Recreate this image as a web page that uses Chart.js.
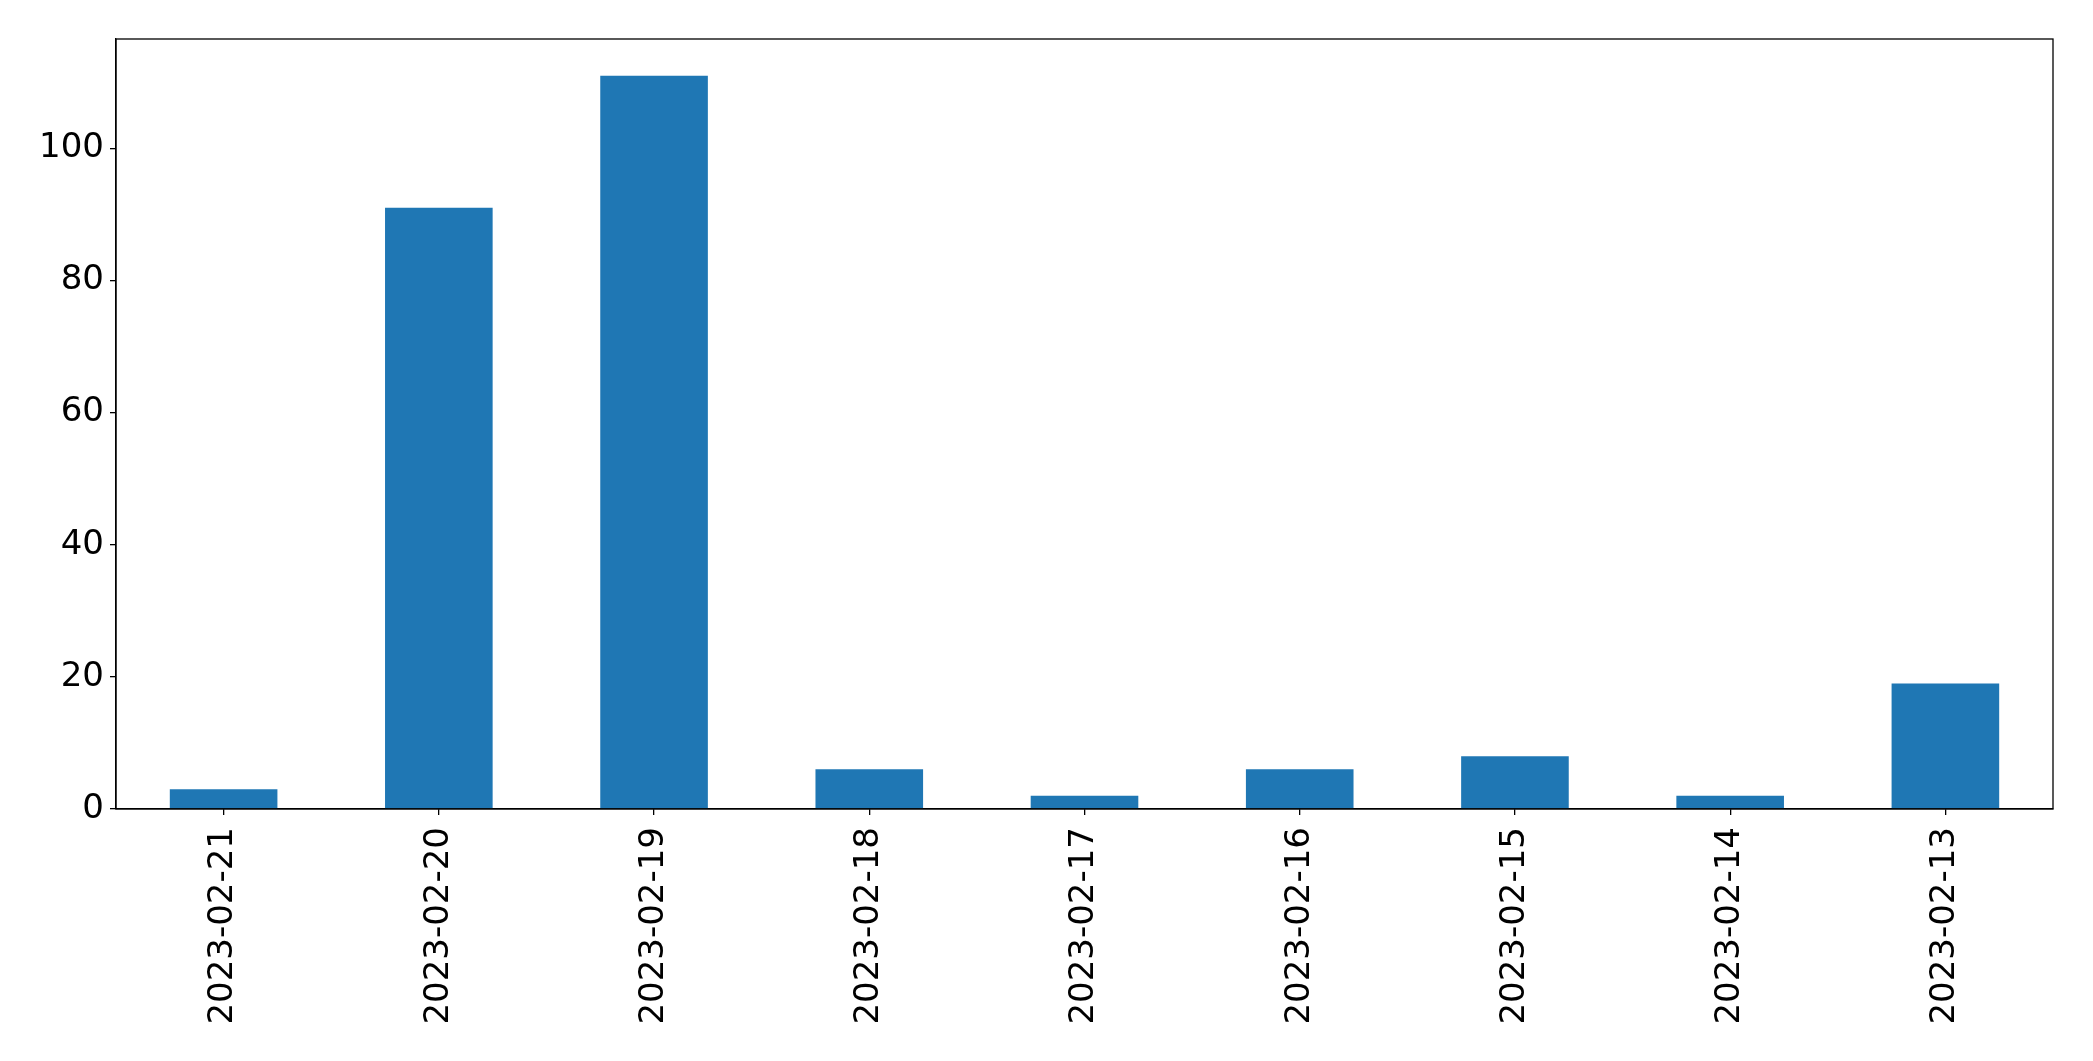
<!DOCTYPE html>
<html>
<head>
<meta charset="utf-8">
<script src="https://cdn.jsdelivr.net/npm/chart.js@4/dist/chart.umd.min.js"></script>
<style>
  body { margin: 0; background: #fff; }
  #wrap { width: 2093px; height: 1061px; }
</style>
</head>
<body>
<div id="wrap"><canvas id="myCanvas"></canvas></div>
<script>
const dates = ["2023-02-21", "2023-02-20", "2023-02-19", "2023-02-18", "2023-02-17",
               "2023-02-16", "2023-02-15", "2023-02-14", "2023-02-13"];
const counts = [3, 91, 111, 6, 2, 6, 8, 2, 19];
const yTicks = [0, 20, 40, 60, 80, 100];

const tickFont = { family: "'DejaVu Sans'", size: 34 };

// box around the plot area, like matplotlib spines
const frame = {
    id: "frame",
    afterDraw(chart) {
        const a = chart.chartArea;
        const ctx = chart.ctx;
        ctx.save();
        ctx.strokeStyle = "#000";
        ctx.lineWidth = 1.3;
        ctx.strokeRect(a.left, a.top, a.right - a.left, a.bottom - a.top);
        ctx.restore();
    }
};

const myCanvas = document.getElementById("myCanvas");
const gChart = new Chart(myCanvas, {
    type: "bar",
    data: {
        labels: dates,
        datasets: [{
            data: counts,
            backgroundColor: "#1f77b4",
            categoryPercentage: 1.0,
            barPercentage: 0.5
        }]
    },
    options: {
        responsive: true,
        maintainAspectRatio: false,
        animation: false,
        layout: { padding: { top: 39, right: 40, left: 0, bottom: 0 } },
        plugins: {
            legend: { display: false },
            tooltip: { enabled: false }
        },
        scales: {
            x: {
                offset: true,
                grid: { display: true, offset: false, drawOnChartArea: false, drawTicks: true, tickLength: 6, color: "#000", lineWidth: 1.3 },
                border: { display: true, color: "#000", width: 1.3 },
                ticks: { color: "#000", font: tickFont, minRotation: 90, maxRotation: 90, padding: 12, autoSkip: false },
                afterFit(scale) { scale.height = 252; }
            },
            y: {
                min: 0,
                max: 116.55,
                grid: { display: true, drawOnChartArea: false, drawTicks: true, tickLength: 6, color: "#000", lineWidth: 1.3 },
                border: { display: true, color: "#000", width: 1.3 },
                ticks: { color: "#000", font: tickFont, stepSize: 20, padding: 6 },
                afterBuildTicks(scale) {
                    scale.ticks = yTicks.map(v => ({ value: v }));
                },
                afterFit(scale) { scale.width = 116; }
            }
        }
    },
    plugins: [frame]
});
</script>
</body>
</html>
